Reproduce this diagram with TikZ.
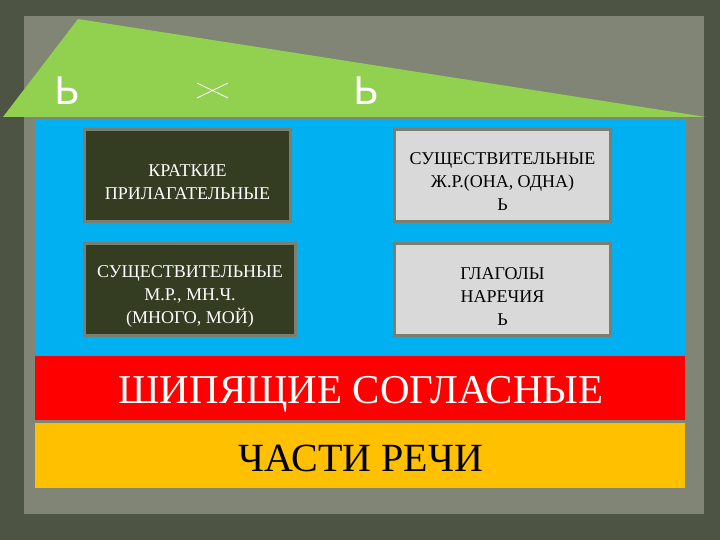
\documentclass[tikz,border=0pt]{standalone}
\usepackage{fontspec}
\setmainfont{Liberation Serif}
\newfontfamily\softsans{DejaVu Sans}
\newcommand{\dropstrut}{\rule{0pt}{25pt}}
\definecolor{bgout}{HTML}{4E5443}
\definecolor{bgin}{HTML}{808575}
\definecolor{roofgreen}{HTML}{92D050}
\definecolor{wallblue}{HTML}{00B0F0}
\definecolor{boxdark}{HTML}{343C22}
\definecolor{boxlight}{HTML}{D9D9D9}
\definecolor{boxedge}{HTML}{7A7F72}
\definecolor{bandred}{HTML}{FF0000}
\definecolor{bandyellow}{HTML}{FFC000}
\tikzset{
  cardbox/.style={draw=boxedge, line width=2.5pt, align=center, inner sep=0pt, font=\fontsize{18}{23}\selectfont},
  darkcard/.style={cardbox, fill=boxdark, text=white},
  lightcard/.style={cardbox, fill=boxlight, text=black},
  softsign/.style={text=white, inner sep=0pt, font=\softsans\fontsize{38}{38}\selectfont},
  bandtext/.style={anchor=base, inner sep=0pt, font=\fontsize{41}{41}\selectfont}
}
\begin{document}
\begin{tikzpicture}[x=1pt,y=-1pt]
\useasboundingbox (0,0) rectangle (720,540);
\fill[bgout] (0,0) rectangle (720,540);
\fill[bgin] (24,16) rectangle (704,514);
% roof
\fill[roofgreen] (3,117) -- (78,19) -- (706,117) -- cycle;
\node[softsign] (s1) at (68,91) {Ь};
\node[softsign] (s2) at (367,91) {Ь};
\coordinate (c1) at (197,83);
\coordinate (c2) at (228,98);
\coordinate (c3) at (197,98);
\coordinate (c4) at (228,83);
\draw[white, line width=0.8pt] (c1) -- (c2) (c3) -- (c4);
% wall
\fill[wallblue] (35,119) rectangle (685,355);
\node[darkcard, minimum width=206pt, minimum height=92pt] (k) at (187.5,175.5) {\dropstrut КРАТКИЕ\\ПРИЛАГАТЕЛЬНЫЕ};
\node[lightcard, minimum width=216pt, minimum height=92pt] (zh) at (502.5,175.5) {\dropstrut СУЩЕСТВИТЕЛЬНЫЕ\\Ж.Р.(ОНА, ОДНА)\\Ь};
\node[darkcard, minimum width=211pt, minimum height=92pt] (m) at (190,289.5) {\dropstrut СУЩЕСТВИТЕЛЬНЫЕ\\М.Р., МН.Ч.\\(МНОГО, МОЙ)};
\node[lightcard, minimum width=216pt, minimum height=92pt] (g) at (502.5,289.5) {\dropstrut ГЛАГОЛЫ\\НАРЕЧИЯ\\Ь};
% bands
\fill[bandred] (35,356) rectangle (685,420);
\node[bandtext, text=white] (sh) at (361,403) {ШИПЯЩИЕ СОГЛАСНЫЕ};
\fill[bandyellow] (35,423) rectangle (685,488);
\node[bandtext, text=black, font=\fontsize{40}{40}\selectfont] (ch) at (361,471) {ЧАСТИ РЕЧИ};
\end{tikzpicture}
\end{document}
